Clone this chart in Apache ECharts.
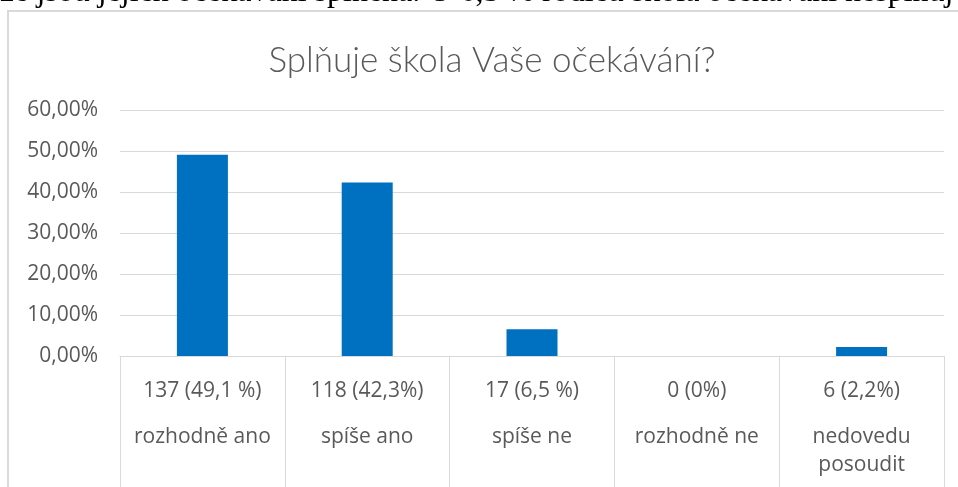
<!DOCTYPE html>
<html><head><meta charset="utf-8">
<script src="https://cdn.jsdelivr.net/npm/echarts@6/dist/echarts.min.js"></script>
<style>html,body{margin:0;padding:0;background:#fff;}#c{width:958px;height:487px;}</style>
</head><body><div id="c"></div>
<script>
const categories = ['rozhodně ano', 'spíše ano', 'spíše ne', 'rozhodně ne', 'nedovedu\nposoudit'];
const countLabels = ['137 (49,1 %)', '118 (42,3%)', '17 (6,5 %)', '0 (0%)', '6 (2,2%)'];
const values = [49.1, 42.3, 6.5, 0, 2.2];
const titleText = 'Splňuje škola Vaše očekávání?';
const aboveText = 'že jsou jejich očekávání splněna. U 6,5 % rodičů škola očekávání nesplňuj';

const chart = echarts.init(document.getElementById('c'), null, {renderer: 'canvas'});
const labelFont = 'Open Sans';
chart.setOption({
  animation: false,
  title: {
    text: titleText, left: 487, textAlign: 'center', top: 38,
    textStyle: {fontFamily: 'Lato', fontWeight: 300, fontSize: 35, color: '#595959'}
  },
  graphic: [
    {type: 'rect', shape: {x: 8, y: 11, width: 1000, height: 600}, style: {fill: 'none', stroke: '#d9d9d9', lineWidth: 2}, silent: true},
    {type: 'text', left: 0, top: -23, style: {text: aboveText, font: '32px "Liberation Serif"', fill: '#000'}, silent: true}
  ],
  grid: {left: 120, right: 14, top: 110, bottom: 131, containLabel: false},
  xAxis: {
    type: 'category', data: categories,
    axisLine: {lineStyle: {color: '#d9d9d9', width: 1}},
    axisTick: {show: true, length: 135, lineStyle: {color: '#d9d9d9'}},
    axisLabel: {
      interval: 0, margin: 3,
      formatter: (v, i) => '{a|' + countLabels[i] + '}\n{b|' + v + '}',
      rich: {
        a: {fontFamily: labelFont, fontSize: 21, color: '#595959', lineHeight: 64},
        b: {fontFamily: labelFont, fontSize: 21, color: '#595959', lineHeight: 28}
      }
    }
  },
  yAxis: {
    type: 'value', min: 0, max: 60, interval: 10,
    axisLine: {show: false}, axisTick: {show: false},
    splitLine: {lineStyle: {color: '#d9d9d9', width: 1}},
    axisLabel: {
      margin: 22, color: '#595959', fontFamily: labelFont, fontSize: 21,
      formatter: v => v.toFixed(2).replace('.', ',') + '%'
    }
  },
  series: [{
    type: 'bar', data: values, barWidth: 51,
    itemStyle: {color: '#0070C0'}
  }]
});
</script></body></html>
